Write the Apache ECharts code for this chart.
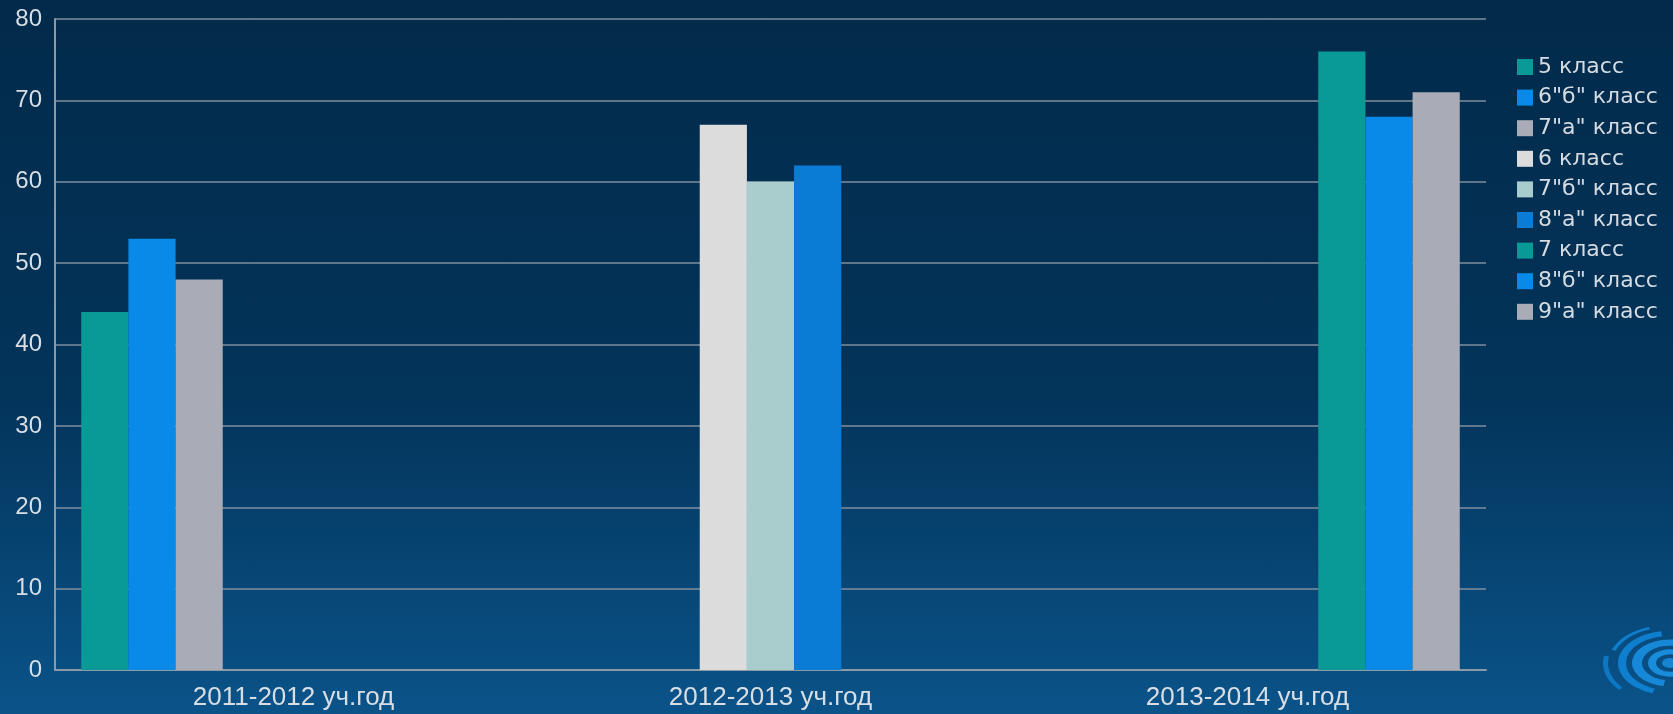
<!DOCTYPE html>
<html>
<head>
<meta charset="utf-8">
<script src="https://cdn.jsdelivr.net/npm/echarts@6/dist/echarts.min.js"></script>
<style>
html,body{margin:0;padding:0;width:1673px;height:714px;overflow:hidden;background:linear-gradient(to bottom,#022a4a 0%,#03345a 55%,#0a5389 100%);}
#c{width:1673px;height:714px;}
</style>
</head>
<body>
<div id="c"></div>
<script>
const categories = ["2011-2012 уч.год", "2012-2013 уч.год", "2013-2014 уч.год"];
const seriesNames = ["5 класс", "6\"б\" класс", "7\"а\" класс", "6 класс", "7\"б\" класс", "8\"а\" класс", "7 класс", "8\"б\" класс", "9\"а\" класс"];
const s1 = [44, null, null];
const s2 = [53, null, null];
const s3 = [48, null, null];
const s4 = [null, 67, null];
const s5 = [null, 60, null];
const s6 = [null, 62, null];
const s7 = [null, null, 76];
const s8 = [null, null, 68];
const s9 = [null, null, 71];
const seriesData = [s1, s2, s3, s4, s5, s6, s7, s8, s9];
const colors = ["#0a9a96", "#0a8ae8", "#a9acb6", "#dcdcdc", "#a9cdcd", "#0b7cd6", "#0a9a96", "#0a8ae8", "#a9acb6"];

const chart = echarts.init(document.getElementById('c'), null, {renderer: 'canvas'});

function swirl() {
  const cx = 1670, cy = 663;
  const rings = [
    {r: 62, r0: 58, s: 200, e: 250, c: '#1287dc'},
    {r: 67, r0: 62, s: 140, e: 190, c: '#0f7fd0'},
    {r: 52, r0: 44, s: 110, e: 260, c: '#1187dc'},
    {r: 38, r0: 28, s: 100, e: 280, c: '#1a92e6'},
    {r: 22, r0: 14, s: 0, e: 360, c: '#1c98ec'},
    {r: 8, r0: 0, s: 0, e: 360, c: '#1a8ee0'}
  ];
  return [{
    type: 'group', silent: true, z: -1,
    x: cx, y: cy, scaleY: 0.62,
    children: rings.map(o => ({
      type: 'sector',
      shape: {cx: 0, cy: 0, r: o.r, r0: o.r0, startAngle: o.s * Math.PI / 180, endAngle: o.e * Math.PI / 180},
      style: {fill: o.c, opacity: 0.85}
    }))
  }];
}

chart.setOption({
  backgroundColor: 'transparent',
  animation: false,
  color: colors,
  grid: {left: 55, right: 187, top: 19, bottom: 44, containLabel: false},
  legend: {
    orient: 'vertical', left: 1512, top: 51,
    itemWidth: 16, itemHeight: 16, itemGap: 8.6,
    icon: 'rect',
    textStyle: {color: '#d4dbe2', fontSize: 22, fontFamily: 'DejaVu Sans'},
    data: seriesNames
  },
  xAxis: {
    type: 'category', data: categories,
    axisLine: {lineStyle: {color: '#8c9aa6', width: 2}},
    axisTick: {show: false},
    axisLabel: {color: '#d8dee4', fontSize: 26, fontFamily: 'Liberation Sans', margin: 15}
  },
  yAxis: {
    type: 'value', min: 0, max: 80, interval: 10,
    axisLine: {show: true, lineStyle: {color: '#8c9aa6', width: 2}},
    axisTick: {show: false},
    axisLabel: {color: '#d8dee4', fontSize: 24, fontFamily: 'Liberation Sans', margin: 13},
    splitLine: {lineStyle: {color: '#7f8f9e', width: 1.5}}
  },
  graphic: swirl(),
  series: seriesNames.map((n, i) => ({
    name: n, type: 'bar', data: seriesData[i],
    barGap: '0%', barCategoryGap: '11%',
    itemStyle: {color: colors[i]}
  }))
});
</script>
</body>
</html>
